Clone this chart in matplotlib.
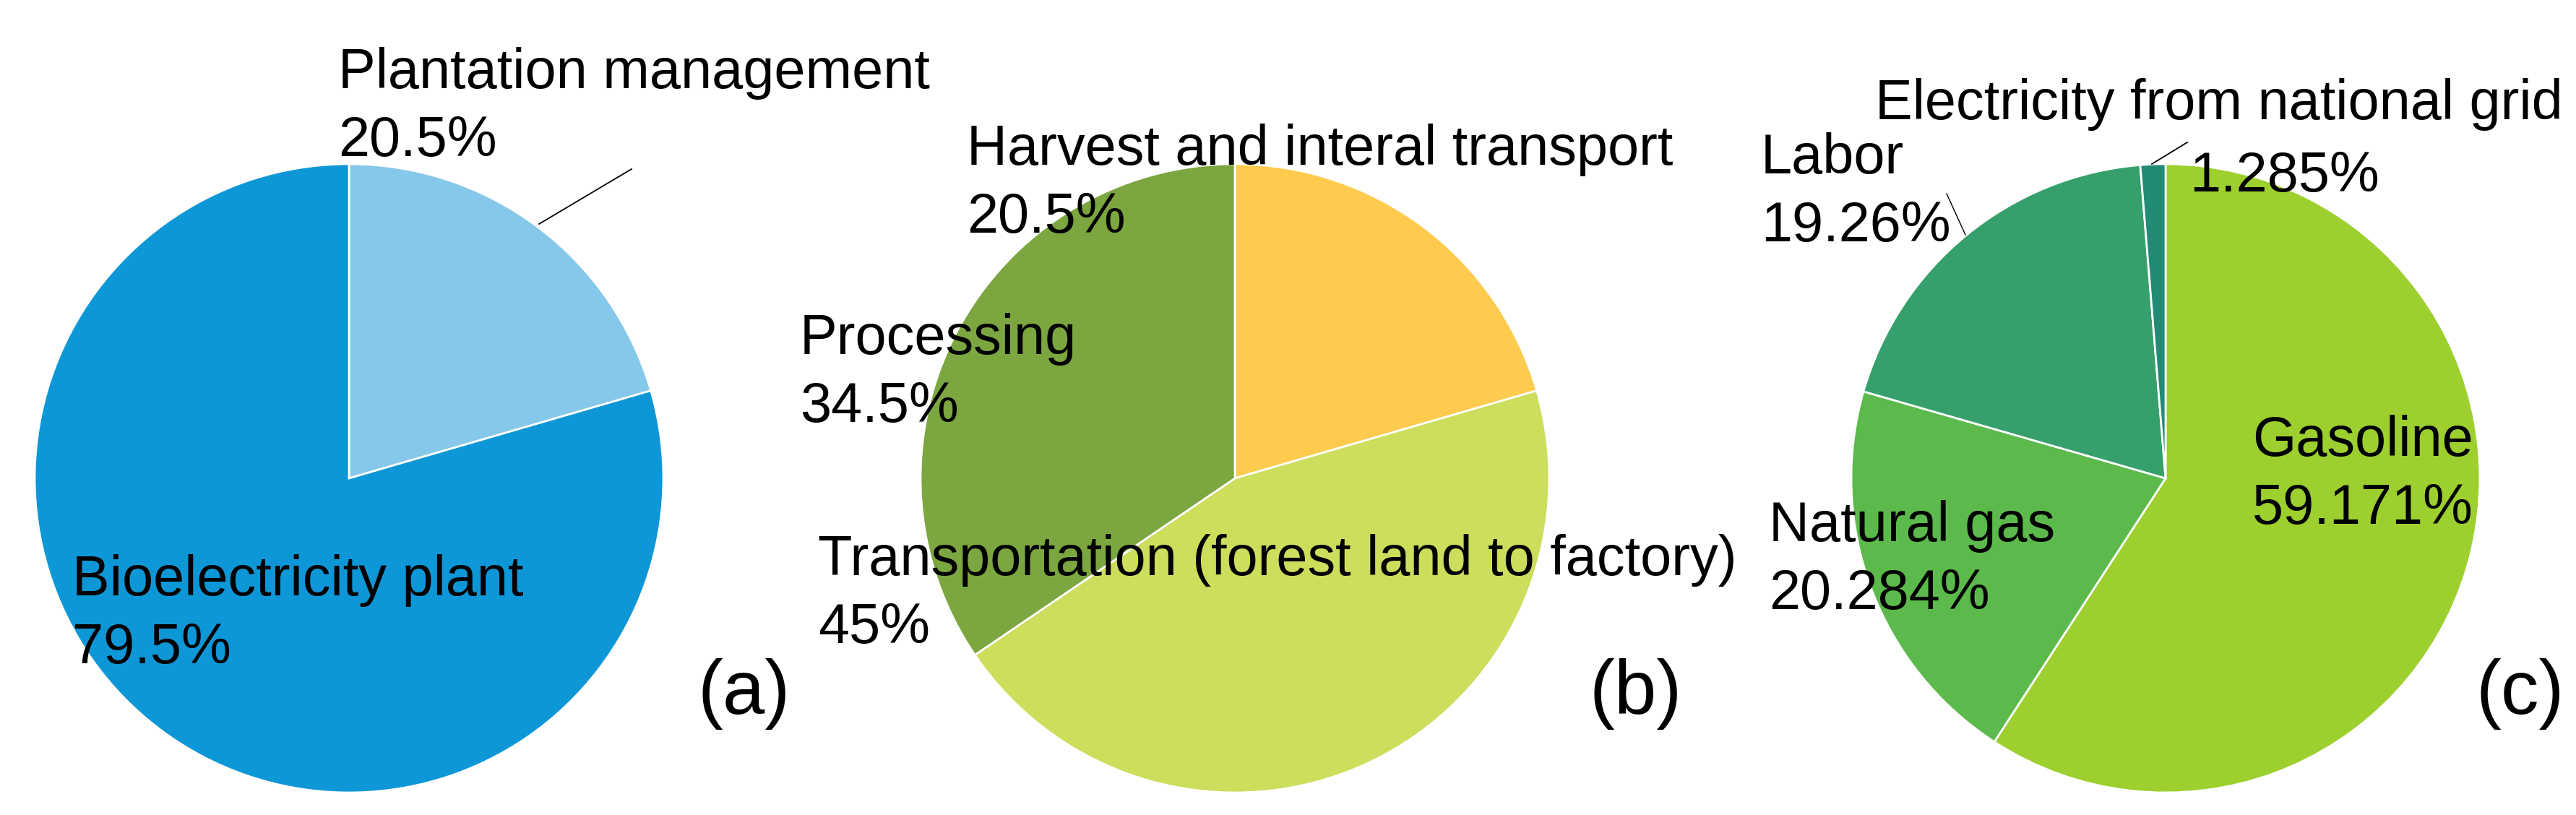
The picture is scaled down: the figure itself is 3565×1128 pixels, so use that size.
import matplotlib
matplotlib.use("Agg")
import matplotlib.pyplot as plt

# 画像サイズ（px）
W, H = 3566, 1128
DPI = 100

# (a)
a_labels = ["Plantation management", "Bioelectricity plant"]
a_values = [20.5, 79.5]
a_pct = ["20.5%", "79.5%"]
a_colors = ["#86C8E9", "#0E97D7"]

# (b)
b_labels = ["Harvest and interal transport", "Transportation (forest land to factory)", "Processing"]
b_values = [20.5, 45.0, 34.5]
b_pct = ["20.5%", "45%", "34.5%"]
b_colors = ["#FECB4E", "#CDDD5C", "#7BA640"]

# (c)
c_labels = ["Gasoline", "Natural gas", "Labor", "Electricity from national grid"]
c_values = [59.171, 20.284, 19.26, 1.285]
c_pct = ["59.171%", "20.284%", "19.26%", "1.285%"]
c_colors = ["#9DD02F", "#5CBA4C", "#35A06B", "#218B76"]

panel_tags = ["(a)", "(b)", "(c)"]

# 配置（px, 上から）
_RADIUS = 435
_CENTERS = [(483, 662), (1709, 662), (2997, 662)]
_FS = 77.5 * 72 / DPI
_TAG_FS = 105 * 72 / DPI
_LINE_GAP = 94


def _y(py):
    """上からの px を下からのデータ座標へ"""
    return H - py


def _label(ax, x, y_base, name, pct):
    ax.text(x, _y(y_base), name, fontsize=_FS, va="baseline", ha="left")
    ax.text(x, _y(y_base + _LINE_GAP), pct, fontsize=_FS, va="baseline", ha="left")


plt.rcParams["font.family"] = ["Liberation Sans", "DejaVu Sans"]
fig = plt.figure(figsize=(W / DPI, H / DPI), dpi=DPI)
ax = fig.add_axes([0, 0, 1, 1])

for (cx, cy), vals, cols in zip(
    _CENTERS, [a_values, b_values, c_values], [a_colors, b_colors, c_colors]
):
    ax.pie(
        vals,
        colors=cols,
        startangle=90,
        counterclock=False,
        center=(cx, _y(cy)),
        radius=_RADIUS,
        frame=True,
        wedgeprops=dict(edgecolor="white", linewidth=2.0),
    )

# (a) ラベル
_label(ax, 468, 122, a_labels[0], a_pct[0])
_label(ax, 100, 824, a_labels[1], a_pct[1])
ax.plot([746, 874], [_y(310), _y(234)], color="black", lw=1.3)

# (b) ラベル
_label(ax, 1338, 228, b_labels[0], b_pct[0])
_label(ax, 1107, 490, b_labels[2], b_pct[2])
_label(ax, 1132, 796, b_labels[1], b_pct[1])

# (c) ラベル
_label(ax, 3117, 631, c_labels[0], c_pct[0])
_label(ax, 2448, 749, c_labels[1], c_pct[1])
_label(ax, 2437, 240, c_labels[2], c_pct[2])
ax.text(2595, _y(165), c_labels[3], fontsize=_FS, va="baseline", ha="left")
ax.text(3030, _y(265), c_pct[3], fontsize=_FS, va="baseline", ha="left")
ax.plot([2694, 2720], [_y(268), _y(325)], color="black", lw=1.0)
ax.plot([2978, 3027], [_y(227), _y(197)], color="black", lw=1.3)

# パネル記号
for x, tag in zip([966, 2200, 3427], panel_tags):
    ax.text(x, _y(988), tag, fontsize=_TAG_FS, va="baseline", ha="left")

ax.set_xlim(0, W)
ax.set_ylim(0, H)
ax.set_aspect("equal")
ax.axis("off")
fig.savefig("out.png", dpi=DPI)
plt.close(fig)
